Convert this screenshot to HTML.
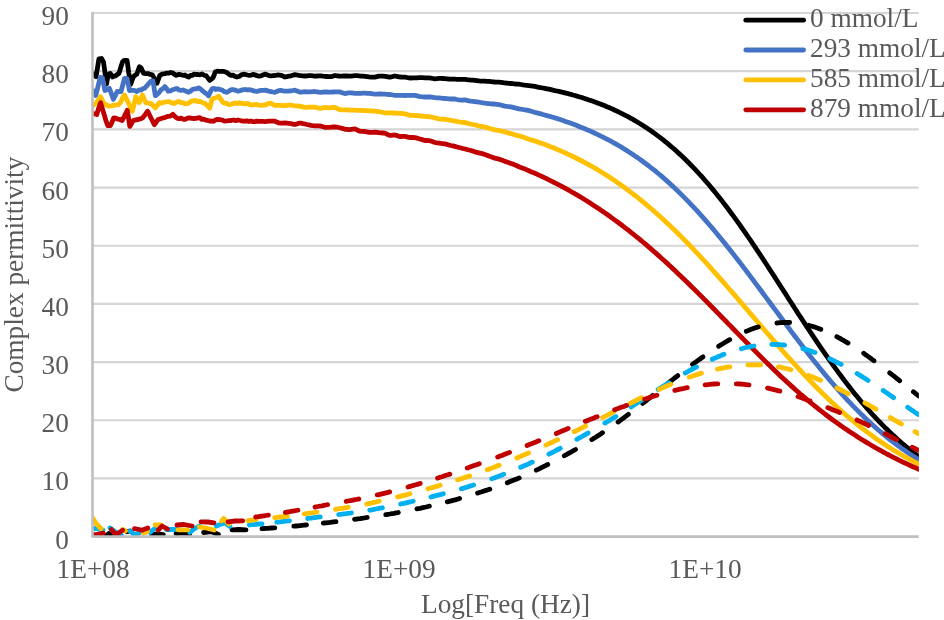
<!DOCTYPE html>
<html><head><meta charset="utf-8"><style>
html,body{margin:0;padding:0;background:#fff;width:944px;height:620px;overflow:hidden}
svg{display:block}
text{font-family:"Liberation Serif",serif;font-size:27.3px;fill:#595959}
svg{will-change:transform}
</style></head><body>
<svg width="944" height="620" viewBox="0 0 944 620">
<defs><clipPath id="pa"><rect x="92.5" y="0" width="826.4" height="536.6"/></clipPath></defs>
<g stroke="#d5d5d5" stroke-width="2.2"><line x1="92.5" y1="478.43" x2="918.7" y2="478.43"/><line x1="92.5" y1="420.25" x2="918.7" y2="420.25"/><line x1="92.5" y1="362.08" x2="918.7" y2="362.08"/><line x1="92.5" y1="303.90" x2="918.7" y2="303.90"/><line x1="92.5" y1="245.73" x2="918.7" y2="245.73"/><line x1="92.5" y1="187.55" x2="918.7" y2="187.55"/><line x1="92.5" y1="129.38" x2="918.7" y2="129.38"/><line x1="92.5" y1="71.20" x2="918.7" y2="71.20"/><line x1="92.5" y1="13.02" x2="918.7" y2="13.02"/></g>
<g fill="none" stroke-width="4.8" stroke-linecap="round" stroke-linejoin="round" clip-path="url(#pa)">
<path d="M92.5,73.4 94.2,75.0 96.0,76.6 97.5,67.9 98.9,58.9 101.5,58.5 103.5,62.0 105.0,72.9 106.5,84.0 108.3,74.2 110.2,73.4 112.5,77.0 114.2,76.0 115.8,75.8 117.4,74.4 119.0,73.4 120.8,67.3 122.5,62.0 124.0,60.5 125.5,60.5 127.1,60.5 128.8,73.1 130.6,84.5 132.1,80.3 133.5,76.6 135.2,75.1 136.8,74.2 139.4,66.8 141.0,67.8 143.4,73.1 145.7,73.6 147.9,73.6 150.2,74.4 152.4,74.8 155.0,80.0 157.0,83.2 158.4,79.3 159.8,75.3 162.4,74.0 164.9,73.6 166.8,73.2 168.6,73.2 170.5,72.5 172.4,72.8 174.3,74.2 176.2,75.3 178.5,74.4 180.7,74.7 183.0,75.3 184.9,75.0 186.7,76.3 188.6,77.0 190.5,75.5 192.3,75.3 194.2,74.2 196.1,74.5 198.0,74.5 199.9,74.8 202.0,74.0 204.2,75.3 206.3,75.9 208.0,78.1 209.7,80.4 211.4,79.1 213.1,77.6 215.3,72.0 217.2,71.1 219.1,71.4 221.0,71.4 223.2,71.3 225.5,72.0 227.2,72.7 228.9,74.2 230.9,75.4 232.9,75.2 234.8,76.3 236.8,77.0 239.1,76.5 241.3,74.9 243.6,74.2 245.5,74.5 247.3,75.0 249.2,75.3 251.1,75.2 253.0,74.4 254.9,74.8 256.9,75.7 258.9,76.2 260.9,75.9 262.9,75.0 264.9,74.1 266.9,74.8 268.9,75.6 270.9,75.9 272.9,75.7 274.9,75.5 276.9,75.2 278.9,75.0 280.9,75.3 282.9,76.1 284.9,77.0 286.9,76.6 288.9,76.2 290.9,75.8 292.9,75.2 294.9,74.6 296.9,75.0 298.9,75.4 300.9,75.7 302.9,75.8 304.9,76.0 306.9,75.8 308.9,75.6 310.9,75.6 312.9,75.9 314.9,76.2 316.9,76.0 318.9,75.8 320.9,75.8 322.9,76.1 324.9,76.3 326.9,76.5 328.9,76.7 330.9,76.6 332.9,76.1 334.9,75.5 336.9,75.8 338.9,76.0 340.9,76.1 342.9,76.0 344.9,75.8 346.9,76.0 348.9,76.2 350.9,76.1 352.9,75.8 354.9,75.6 356.9,75.7 358.9,75.9 360.9,76.1 362.9,76.2 364.9,76.3 366.9,76.6 368.9,76.9 370.9,77.1 372.9,77.1 374.9,77.2 376.9,76.7 378.9,76.2 380.9,76.1 382.9,76.2 384.9,76.4 386.9,76.7 388.9,77.1 390.9,77.0 392.9,76.5 394.9,76.0 396.9,76.4 398.9,76.8 400.9,77.0 402.9,77.1 404.9,77.2 406.9,77.5 408.9,77.8 410.9,78.0 412.9,77.9 414.9,77.9 416.9,77.8 418.9,77.7 420.9,77.6 422.9,77.7 424.9,77.8 426.9,77.8 428.9,77.9 430.9,78.2 432.9,78.5 434.9,78.9 436.9,78.7 438.9,78.4 440.9,78.4 442.9,78.5 444.9,78.6 446.9,78.8 448.9,79.0 450.9,79.1 452.9,79.1 454.9,79.2 456.9,79.3 458.9,79.4 460.9,79.4 462.9,79.4 464.9,79.4 466.9,79.7 468.9,79.9 470.9,80.1 472.9,80.2 474.9,80.3 476.9,80.6 478.9,80.9 480.9,81.1 482.9,81.2 484.9,81.2 486.9,81.3 488.9,81.4 490.9,81.6 492.9,81.8 494.9,82.0 496.9,82.1 498.9,82.2 500.9,82.4 502.9,82.7 504.9,83.0 506.9,83.1 508.9,83.3 510.9,83.5 512.9,83.7 514.9,84.0 516.9,84.1 518.9,84.2 520.9,84.5 522.9,84.9 524.9,85.2 526.9,85.4 528.9,85.6 530.9,85.8 532.9,86.1 534.9,86.4 536.9,86.9 538.9,87.3 540.9,87.7 542.9,88.0 544.9,88.4 546.9,88.8 548.9,89.2 550.9,89.7 552.9,90.2 554.9,90.7 556.9,91.0 558.9,91.4 560.9,91.8 562.9,92.3 564.9,92.8 566.9,93.3 568.9,93.9 570.9,94.4 572.9,95.0 574.9,95.5 576.9,96.1 578.9,96.7 580.9,97.3 582.9,97.9 584.9,98.6 586.9,99.2 588.9,99.9 590.9,100.6 592.9,101.3 594.9,102.0 596.9,102.7 598.9,103.5 600.9,104.2 602.9,105.0 604.9,105.8 606.9,106.7 608.9,107.5 610.9,108.4 612.9,109.3 614.9,110.2 616.9,111.1 618.9,112.1 620.9,113.1 622.9,114.1 624.9,115.1 626.9,116.1 628.9,117.2 630.9,118.3 632.9,119.4 634.9,120.6 636.9,121.8 638.9,123.0 640.9,124.2 642.9,125.5 644.9,126.8 646.9,128.1 648.9,129.4 650.9,130.8 652.9,132.2 654.9,133.6 656.9,135.1 658.9,136.6 660.9,138.1 662.9,139.7 664.9,141.3 666.9,142.9 668.9,144.6 670.9,146.3 672.9,148.0 674.9,149.7 676.9,151.5 678.9,153.4 680.9,155.2 682.9,157.1 684.9,159.0 686.9,161.0 688.9,163.0 690.9,165.0 692.9,167.1 694.9,169.2 696.9,171.3 698.9,173.5 700.9,175.7 702.9,177.9 704.9,180.2 706.9,182.5 708.9,184.8 710.9,187.2 712.9,189.6 714.9,192.0 716.9,194.5 718.9,197.0 720.9,199.5 722.9,202.1 724.9,204.7 726.9,207.3 728.9,210.0 730.9,212.7 732.9,215.4 734.9,218.1 736.9,220.9 738.9,223.7 740.9,226.5 742.9,229.3 744.9,232.2 746.9,235.1 748.9,238.0 750.9,240.9 752.9,243.9 754.9,246.9 756.9,249.9 758.9,252.9 760.9,255.9 762.9,258.9 764.9,262.0 766.9,265.0 768.9,268.1 770.9,271.2 772.9,274.3 774.9,277.4 776.9,280.5 778.9,283.6 780.9,286.7 782.9,289.8 784.9,292.9 786.9,296.0 788.9,299.2 790.9,302.3 792.9,305.4 794.9,308.5 796.9,311.6 798.9,314.7 800.9,317.7 802.9,320.8 804.9,323.9 806.9,326.9 808.9,329.9 810.9,332.9 812.9,335.9 814.9,338.9 816.9,341.9 818.9,344.8 820.9,347.8 822.9,350.7 824.9,353.6 826.9,356.4 828.9,359.3 830.9,362.1 832.9,364.9 834.9,367.7 836.9,370.4 838.9,373.1 840.9,375.8 842.9,378.5 844.9,381.1 846.9,383.7 848.9,386.3 850.9,388.9 852.9,391.4 854.9,393.9 856.9,396.3 858.9,398.8 860.9,401.2 862.9,403.5 864.9,405.9 866.9,408.1 868.9,410.4 870.9,412.7 872.9,414.9 874.9,417.0 876.9,419.2 878.9,421.3 880.9,423.3 882.9,425.4 884.9,427.4 886.9,429.3 888.9,431.3 890.9,433.2 892.9,435.1 894.9,436.9 896.9,438.7 898.9,440.5 900.9,442.3 902.9,444.0 904.9,445.7 906.9,447.3 908.9,448.9 910.9,450.5 912.9,452.1 914.9,453.6 916.9,455.1 918.7,456.5" stroke="#000000"/>
<path d="M92.5,90.0 94.2,92.7 95.8,95.5 98.0,86.5 100.2,77.4 102.3,77.6 103.6,83.6 104.9,90.5 107.2,89.5 109.4,88.3 111.3,93.4 113.3,99.3 115.2,95.8 117.2,91.5 119.1,91.6 121.0,91.5 122.8,84.9 124.5,78.3 127.1,78.6 129.5,90.6 131.5,90.2 133.5,90.3 135.2,90.8 136.8,91.5 139.1,89.9 141.3,90.0 142.9,88.6 144.5,88.3 146.8,85.9 149.0,83.2 151.0,81.1 153.0,81.0 155.3,95.7 157.2,94.4 159.2,92.3 161.1,89.6 163.0,88.8 164.9,86.6 166.6,88.5 168.2,91.2 170.5,90.8 172.7,89.7 175.0,88.9 177.0,88.5 179.0,90.0 181.0,90.4 183.0,90.0 184.9,90.7 186.7,91.4 188.6,92.3 190.5,91.1 192.3,89.6 194.2,88.9 196.6,88.8 199.0,87.8 200.9,89.3 202.9,91.2 204.8,92.7 206.7,93.8 208.6,95.7 210.3,92.0 212.0,88.9 213.9,88.3 215.7,89.5 217.6,88.9 219.8,89.4 222.1,90.0 224.3,91.6 226.6,92.3 228.5,91.4 230.4,90.1 232.3,89.5 234.2,89.9 236.0,90.4 237.9,91.2 240.2,90.6 242.4,89.9 244.7,89.5 247.2,89.8 249.8,89.7 252.3,90.4 254.9,91.2 256.9,91.5 258.9,90.8 260.9,90.4 262.9,90.3 264.9,90.2 266.9,90.7 268.9,91.2 270.9,91.6 272.9,92.0 274.9,92.3 276.9,91.4 278.9,90.6 280.9,90.3 282.9,90.8 284.9,91.2 286.9,91.1 288.9,91.0 290.9,90.8 292.9,90.5 294.9,90.2 296.9,91.0 298.9,91.8 300.9,92.1 302.9,91.9 304.9,91.7 306.9,91.8 308.9,91.9 310.9,91.8 312.9,91.6 314.9,91.5 316.9,91.8 318.9,92.2 320.9,92.3 322.9,92.1 324.9,91.9 326.9,92.0 328.9,92.2 330.9,92.2 332.9,92.0 334.9,91.8 336.9,91.8 338.9,91.9 340.9,92.2 342.9,92.9 344.9,93.6 346.9,93.2 348.9,92.9 350.9,92.8 352.9,93.0 354.9,93.3 356.9,93.3 358.9,93.3 360.9,93.3 362.9,93.2 364.9,93.2 366.9,93.3 368.9,93.4 370.9,93.5 372.9,93.9 374.9,94.2 376.9,94.1 378.9,94.0 380.9,94.0 382.9,94.1 384.9,94.2 386.9,94.3 388.9,94.5 390.9,94.7 392.9,95.0 394.9,95.4 396.9,95.4 398.9,95.4 400.9,95.4 402.9,95.4 404.9,95.5 406.9,95.4 408.9,95.4 410.9,95.3 412.9,95.3 414.9,95.3 416.9,95.8 418.9,96.4 420.9,96.7 422.9,96.9 424.9,97.0 426.9,97.0 428.9,96.9 430.9,97.0 432.9,97.3 434.9,97.6 436.9,97.8 438.9,97.9 440.9,98.1 442.9,98.3 444.9,98.5 446.9,98.7 448.9,98.9 450.9,99.0 452.9,99.0 454.9,99.0 456.9,99.5 458.9,99.9 460.9,100.1 462.9,100.0 464.9,99.8 466.9,100.3 468.9,100.8 470.9,101.2 472.9,101.4 474.9,101.6 476.9,101.9 478.9,102.2 480.9,102.5 482.9,102.9 484.9,103.2 486.9,103.5 488.9,103.7 490.9,103.9 492.9,104.0 494.9,104.0 496.9,104.3 498.9,104.6 500.9,105.0 502.9,105.6 504.9,106.1 506.9,106.4 508.9,106.6 510.9,106.9 512.9,107.4 514.9,107.9 516.9,108.3 518.9,108.8 520.9,109.2 522.9,109.5 524.9,109.8 526.9,110.2 528.9,110.7 530.9,111.2 532.9,111.8 534.9,112.4 536.9,112.9 538.9,113.4 540.9,113.9 542.9,114.5 544.9,115.0 546.9,115.6 548.9,116.2 550.9,116.7 552.9,117.3 554.9,117.9 556.9,118.5 558.9,119.1 560.9,119.8 562.9,120.5 564.9,121.2 566.9,121.9 568.9,122.6 570.9,123.3 572.9,124.0 574.9,124.8 576.9,125.6 578.9,126.4 580.9,127.2 582.9,128.0 584.9,128.8 586.9,129.7 588.9,130.5 590.9,131.4 592.9,132.3 594.9,133.2 596.9,134.1 598.9,135.1 600.9,136.1 602.9,137.1 604.9,138.1 606.9,139.1 608.9,140.2 610.9,141.2 612.9,142.3 614.9,143.4 616.9,144.6 618.9,145.7 620.9,146.9 622.9,148.1 624.9,149.4 626.9,150.6 628.9,151.9 630.9,153.2 632.9,154.5 634.9,155.9 636.9,157.2 638.9,158.6 640.9,160.0 642.9,161.5 644.9,163.0 646.9,164.5 648.9,166.0 650.9,167.6 652.9,169.1 654.9,170.7 656.9,172.4 658.9,174.0 660.9,175.7 662.9,177.4 664.9,179.2 666.9,180.9 668.9,182.7 670.9,184.6 672.9,186.4 674.9,188.3 676.9,190.2 678.9,192.1 680.9,194.1 682.9,196.1 684.9,198.1 686.9,200.1 688.9,202.2 690.9,204.3 692.9,206.4 694.9,208.5 696.9,210.7 698.9,212.9 700.9,215.1 702.9,217.3 704.9,219.6 706.9,221.9 708.9,224.2 710.9,226.5 712.9,228.9 714.9,231.3 716.9,233.7 718.9,236.1 720.9,238.5 722.9,241.0 724.9,243.4 726.9,245.9 728.9,248.5 730.9,251.0 732.9,253.5 734.9,256.1 736.9,258.7 738.9,261.3 740.9,263.9 742.9,266.5 744.9,269.1 746.9,271.8 748.9,274.4 750.9,277.1 752.9,279.7 754.9,282.4 756.9,285.1 758.9,287.8 760.9,290.5 762.9,293.2 764.9,295.9 766.9,298.6 768.9,301.3 770.9,304.0 772.9,306.7 774.9,309.4 776.9,312.1 778.9,314.8 780.9,317.5 782.9,320.2 784.9,322.9 786.9,325.6 788.9,328.3 790.9,331.0 792.9,333.6 794.9,336.3 796.9,338.9 798.9,341.5 800.9,344.1 802.9,346.8 804.9,349.3 806.9,351.9 808.9,354.5 810.9,357.0 812.9,359.6 814.9,362.1 816.9,364.6 818.9,367.0 820.9,369.5 822.9,371.9 824.9,374.4 826.9,376.7 828.9,379.1 830.9,381.5 832.9,383.8 834.9,386.1 836.9,388.4 838.9,390.7 840.9,392.9 842.9,395.1 844.9,397.3 846.9,399.5 848.9,401.6 850.9,403.7 852.9,405.8 854.9,407.9 856.9,409.9 858.9,411.9 860.9,413.9 862.9,415.8 864.9,417.8 866.9,419.7 868.9,421.5 870.9,423.4 872.9,425.2 874.9,427.0 876.9,428.8 878.9,430.5 880.9,432.2 882.9,433.9 884.9,435.5 886.9,437.2 888.9,438.8 890.9,440.4 892.9,441.9 894.9,443.4 896.9,444.9 898.9,446.4 900.9,447.8 902.9,449.3 904.9,450.6 906.9,452.0 908.9,453.4 910.9,454.7 912.9,456.0 914.9,457.2 916.9,458.5 918.7,459.6" stroke="#4472c4"/>
<path d="M92.5,106.1 94.5,104.1 96.5,103.0 98.5,99.5 100.6,96.8 102.5,100.7 104.4,104.4 106.5,104.9 108.6,106.1 111.2,105.9 113.7,105.3 116.2,105.0 118.8,104.4 120.8,102.2 122.7,97.6 124.7,95.1 126.6,99.4 128.5,103.0 130.4,107.1 132.4,111.2 134.1,104.0 135.8,96.8 137.5,99.1 139.2,102.7 140.8,98.7 142.5,95.1 144.2,99.2 145.9,102.7 148.4,103.1 151.0,103.6 153.2,105.7 155.3,107.8 157.4,105.1 159.5,102.7 161.8,103.0 164.0,102.2 166.3,101.9 168.8,101.5 171.4,102.7 173.9,103.6 176.2,102.3 178.4,101.4 180.7,102.5 183.0,102.6 185.2,103.8 187.5,103.6 189.4,102.7 191.2,101.2 193.1,100.8 195.4,100.5 197.6,101.6 199.9,101.3 201.7,102.1 203.4,102.9 205.2,103.6 207.4,105.8 209.7,108.1 212.0,99.1 214.2,98.2 216.5,97.5 218.7,96.2 220.9,99.6 223.2,102.5 225.1,103.3 227.0,103.5 228.9,104.7 231.2,104.4 233.4,103.3 235.7,103.0 237.7,103.6 239.6,102.7 241.6,103.4 243.6,103.6 245.9,103.8 248.1,103.4 250.4,104.9 252.6,105.0 254.9,104.5 256.9,104.6 258.9,105.1 260.9,105.3 262.9,105.2 264.9,105.1 266.9,104.2 268.9,103.3 270.9,103.4 272.9,104.4 274.9,105.4 276.9,105.3 278.9,105.3 280.9,105.4 282.9,105.5 284.9,105.6 286.9,105.3 288.9,105.1 290.9,105.1 292.9,105.5 294.9,105.8 296.9,105.9 298.9,106.1 300.9,106.4 302.9,106.9 304.9,107.4 306.9,107.3 308.9,107.1 310.9,107.1 312.9,107.1 314.9,107.1 316.9,107.7 318.9,108.2 320.9,108.3 322.9,107.8 324.9,107.4 326.9,107.6 328.9,107.8 330.9,107.7 332.9,107.5 334.9,107.3 336.9,108.3 338.9,109.3 340.9,109.8 342.9,109.8 344.9,109.8 346.9,109.9 348.9,110.0 350.9,110.1 352.9,110.2 354.9,110.2 356.9,110.3 358.9,110.3 360.9,110.4 362.9,110.5 364.9,110.7 366.9,110.7 368.9,110.8 370.9,110.9 372.9,111.1 374.9,111.2 376.9,111.4 378.9,111.7 380.9,112.0 382.9,112.5 384.9,113.0 386.9,112.9 388.9,112.9 390.9,112.9 392.9,113.0 394.9,113.1 396.9,113.2 398.9,113.3 400.9,113.4 402.9,113.6 404.9,113.8 406.9,114.4 408.9,115.1 410.9,115.4 412.9,115.4 414.9,115.5 416.9,115.6 418.9,115.8 420.9,116.0 422.9,116.2 424.9,116.4 426.9,116.5 428.9,116.7 430.9,117.0 432.9,117.4 434.9,117.9 436.9,118.3 438.9,118.8 440.9,119.1 442.9,119.2 444.9,119.3 446.9,119.7 448.9,120.0 450.9,120.4 452.9,120.7 454.9,121.1 456.9,121.5 458.9,121.9 460.9,122.2 462.9,122.4 464.9,122.5 466.9,123.1 468.9,123.7 470.9,124.1 472.9,124.5 474.9,124.8 476.9,125.4 478.9,126.0 480.9,126.5 482.9,126.7 484.9,127.0 486.9,127.6 488.9,128.2 490.9,128.8 492.9,129.3 494.9,129.9 496.9,130.2 498.9,130.5 500.9,131.0 502.9,131.4 504.9,131.9 506.9,132.5 508.9,133.1 510.9,133.7 512.9,134.2 514.9,134.8 516.9,135.3 518.9,135.8 520.9,136.4 522.9,137.1 524.9,137.8 526.9,138.5 528.9,139.2 530.9,139.9 532.9,140.4 534.9,141.0 536.9,141.7 538.9,142.4 540.9,143.1 542.9,143.8 544.9,144.5 546.9,145.3 548.9,146.1 550.9,146.9 552.9,147.6 554.9,148.4 556.9,149.2 558.9,150.1 560.9,151.0 562.9,151.9 564.9,152.8 566.9,153.7 568.9,154.6 570.9,155.5 572.9,156.5 574.9,157.5 576.9,158.5 578.9,159.5 580.9,160.5 582.9,161.5 584.9,162.6 586.9,163.7 588.9,164.8 590.9,165.9 592.9,167.0 594.9,168.2 596.9,169.3 598.9,170.5 600.9,171.8 602.9,173.0 604.9,174.2 606.9,175.5 608.9,176.8 610.9,178.1 612.9,179.4 614.9,180.8 616.9,182.2 618.9,183.5 620.9,185.0 622.9,186.4 624.9,187.8 626.9,189.3 628.9,190.8 630.9,192.3 632.9,193.8 634.9,195.4 636.9,196.9 638.9,198.5 640.9,200.1 642.9,201.8 644.9,203.4 646.9,205.1 648.9,206.8 650.9,208.5 652.9,210.2 654.9,212.0 656.9,213.7 658.9,215.5 660.9,217.3 662.9,219.2 664.9,221.0 666.9,222.9 668.9,224.7 670.9,226.6 672.9,228.6 674.9,230.5 676.9,232.4 678.9,234.4 680.9,236.4 682.9,238.4 684.9,240.4 686.9,242.5 688.9,244.5 690.9,246.6 692.9,248.7 694.9,250.8 696.9,252.9 698.9,255.0 700.9,257.2 702.9,259.3 704.9,261.5 706.9,263.7 708.9,265.9 710.9,268.1 712.9,270.3 714.9,272.6 716.9,274.8 718.9,277.1 720.9,279.3 722.9,281.6 724.9,283.9 726.9,286.2 728.9,288.5 730.9,290.8 732.9,293.1 734.9,295.4 736.9,297.7 738.9,300.1 740.9,302.4 742.9,304.7 744.9,307.1 746.9,309.4 748.9,311.8 750.9,314.1 752.9,316.4 754.9,318.8 756.9,321.1 758.9,323.5 760.9,325.8 762.9,328.1 764.9,330.5 766.9,332.8 768.9,335.1 770.9,337.4 772.9,339.7 774.9,342.0 776.9,344.3 778.9,346.6 780.9,348.9 782.9,351.2 784.9,353.4 786.9,355.7 788.9,357.9 790.9,360.1 792.9,362.3 794.9,364.5 796.9,366.7 798.9,368.9 800.9,371.0 802.9,373.2 804.9,375.3 806.9,377.4 808.9,379.5 810.9,381.6 812.9,383.7 814.9,385.7 816.9,387.7 818.9,389.7 820.9,391.7 822.9,393.7 824.9,395.7 826.9,397.6 828.9,399.5 830.9,401.4 832.9,403.3 834.9,405.1 836.9,407.0 838.9,408.8 840.9,410.6 842.9,412.3 844.9,414.1 846.9,415.8 848.9,417.5 850.9,419.2 852.9,420.9 854.9,422.5 856.9,424.2 858.9,425.8 860.9,427.3 862.9,428.9 864.9,430.4 866.9,431.9 868.9,433.4 870.9,434.9 872.9,436.4 874.9,437.8 876.9,439.2 878.9,440.6 880.9,441.9 882.9,443.3 884.9,444.6 886.9,445.9 888.9,447.2 890.9,448.5 892.9,449.7 894.9,450.9 896.9,452.1 898.9,453.3 900.9,454.5 902.9,455.6 904.9,456.8 906.9,457.9 908.9,459.0 910.9,460.0 912.9,461.1 914.9,462.1 916.9,463.1 918.7,464.0" stroke="#ffc000"/>
<path d="M92.5,113.5 94.7,113.8 96.8,114.6 98.7,108.0 100.6,102.7 102.5,109.1 104.4,115.4 106.1,121.2 107.8,125.6 110.3,125.6 112.0,122.2 113.7,118.0 115.8,118.2 118.0,119.2 120.1,119.5 122.2,120.5 124.8,115.2 127.3,110.3 129.8,126.4 131.5,123.6 133.2,120.5 135.3,120.0 137.5,119.7 140.0,118.9 142.5,118.0 145.1,114.7 147.6,111.2 149.3,114.5 151.0,118.0 152.7,121.3 154.4,124.7 156.1,122.3 157.8,119.7 160.4,118.8 162.9,118.0 165.4,117.4 168.0,116.3 170.4,116.1 172.8,114.3 175.1,116.6 177.3,118.3 179.3,118.6 181.2,118.1 183.2,119.3 185.2,119.4 187.5,118.2 189.7,118.0 192.0,118.3 194.0,118.5 195.9,118.3 197.9,117.8 199.9,117.7 201.8,119.4 203.8,119.1 205.8,120.1 207.7,120.4 209.7,121.1 211.7,121.0 213.6,121.3 215.6,119.9 217.6,119.4 219.9,119.6 222.1,120.0 224.4,121.1 226.7,120.9 228.9,120.6 231.2,120.5 233.4,120.0 235.7,120.6 237.9,120.0 240.2,120.5 242.5,121.1 244.7,121.2 247.0,120.8 249.0,121.5 250.9,121.0 252.9,121.7 254.9,121.7 256.9,121.2 258.9,121.3 260.9,121.3 262.9,121.4 264.9,121.6 266.9,121.4 268.9,121.2 270.9,121.1 272.9,121.2 274.9,121.2 276.9,122.1 278.9,122.9 280.9,123.2 282.9,123.1 284.9,122.9 286.9,123.1 288.9,123.4 290.9,123.7 292.9,124.1 294.9,124.5 296.9,123.9 298.9,123.2 300.9,123.1 302.9,123.6 304.9,124.0 306.9,124.5 308.9,124.9 310.9,125.3 312.9,125.6 314.9,125.8 316.9,125.8 318.9,125.8 320.9,126.1 322.9,126.7 324.9,127.3 326.9,127.3 328.9,127.3 330.9,127.2 332.9,127.0 334.9,126.9 336.9,127.2 338.9,127.5 340.9,128.0 342.9,128.6 344.9,129.3 346.9,129.4 348.9,129.6 350.9,129.5 352.9,129.1 354.9,128.8 356.9,129.8 358.9,130.8 360.9,131.3 362.9,131.4 364.9,131.5 366.9,131.9 368.9,132.3 370.9,132.4 372.9,132.3 374.9,132.1 376.9,132.4 378.9,132.7 380.9,132.9 382.9,133.0 384.9,133.1 386.9,134.1 388.9,135.1 390.9,135.5 392.9,135.2 394.9,135.0 396.9,135.6 398.9,136.3 400.9,136.5 402.9,136.4 404.9,136.3 406.9,136.8 408.9,137.3 410.9,137.5 412.9,137.5 414.9,137.6 416.9,138.1 418.9,138.7 420.9,139.3 422.9,139.9 424.9,140.5 426.9,140.5 428.9,140.6 430.9,141.0 432.9,141.7 434.9,142.5 436.9,142.8 438.9,143.1 440.9,143.4 442.9,143.6 444.9,143.9 446.9,144.4 448.9,145.0 450.9,145.5 452.9,145.9 454.9,146.4 456.9,147.0 458.9,147.5 460.9,148.0 462.9,148.5 464.9,149.0 466.9,149.5 468.9,150.0 470.9,150.5 472.9,151.1 474.9,151.8 476.9,152.3 478.9,152.8 480.9,153.3 482.9,153.9 484.9,154.5 486.9,155.2 488.9,156.0 490.9,156.7 492.9,157.4 494.9,158.2 496.9,158.6 498.9,159.1 500.9,159.7 502.9,160.5 504.9,161.4 506.9,162.0 508.9,162.7 510.9,163.4 512.9,164.1 514.9,164.9 516.9,165.8 518.9,166.7 520.9,167.5 522.9,168.2 524.9,168.9 526.9,169.9 528.9,170.8 530.9,171.7 532.9,172.4 534.9,173.2 536.9,174.1 538.9,175.1 540.9,176.0 542.9,176.9 544.9,177.9 546.9,178.8 548.9,179.8 550.9,180.8 552.9,181.8 554.9,182.9 556.9,183.9 558.9,184.9 560.9,186.0 562.9,187.0 564.9,188.1 566.9,189.2 568.9,190.3 570.9,191.5 572.9,192.6 574.9,193.7 576.9,194.9 578.9,196.1 580.9,197.3 582.9,198.5 584.9,199.8 586.9,201.0 588.9,202.3 590.9,203.6 592.9,204.9 594.9,206.2 596.9,207.5 598.9,208.8 600.9,210.2 602.9,211.5 604.9,212.9 606.9,214.3 608.9,215.7 610.9,217.2 612.9,218.6 614.9,220.1 616.9,221.5 618.9,223.0 620.9,224.5 622.9,226.0 624.9,227.6 626.9,229.1 628.9,230.7 630.9,232.3 632.9,233.8 634.9,235.5 636.9,237.1 638.9,238.7 640.9,240.4 642.9,242.0 644.9,243.7 646.9,245.4 648.9,247.1 650.9,248.8 652.9,250.6 654.9,252.3 656.9,254.1 658.9,255.9 660.9,257.7 662.9,259.5 664.9,261.3 666.9,263.1 668.9,265.0 670.9,266.8 672.9,268.7 674.9,270.6 676.9,272.5 678.9,274.4 680.9,276.3 682.9,278.2 684.9,280.1 686.9,282.1 688.9,284.0 690.9,286.0 692.9,287.9 694.9,289.9 696.9,291.9 698.9,293.9 700.9,295.9 702.9,297.9 704.9,299.9 706.9,301.9 708.9,303.9 710.9,306.0 712.9,308.0 714.9,310.0 716.9,312.1 718.9,314.1 720.9,316.2 722.9,318.2 724.9,320.3 726.9,322.3 728.9,324.4 730.9,326.4 732.9,328.5 734.9,330.5 736.9,332.6 738.9,334.6 740.9,336.7 742.9,338.7 744.9,340.8 746.9,342.8 748.9,344.8 750.9,346.9 752.9,348.9 754.9,350.9 756.9,352.9 758.9,354.9 760.9,356.9 762.9,358.9 764.9,360.9 766.9,362.9 768.9,364.8 770.9,366.8 772.9,368.7 774.9,370.7 776.9,372.6 778.9,374.5 780.9,376.4 782.9,378.3 784.9,380.1 786.9,382.0 788.9,383.8 790.9,385.6 792.9,387.4 794.9,389.2 796.9,391.0 798.9,392.7 800.9,394.5 802.9,396.2 804.9,397.9 806.9,399.6 808.9,401.2 810.9,402.9 812.9,404.5 814.9,406.1 816.9,407.7 818.9,409.3 820.9,410.9 822.9,412.4 824.9,414.0 826.9,415.5 828.9,417.0 830.9,418.5 832.9,420.0 834.9,421.4 836.9,422.9 838.9,424.3 840.9,425.7 842.9,427.1 844.9,428.5 846.9,429.8 848.9,431.2 850.9,432.5 852.9,433.8 854.9,435.1 856.9,436.4 858.9,437.7 860.9,439.0 862.9,440.2 864.9,441.4 866.9,442.6 868.9,443.8 870.9,445.0 872.9,446.2 874.9,447.4 876.9,448.5 878.9,449.6 880.9,450.7 882.9,451.8 884.9,452.9 886.9,454.0 888.9,455.0 890.9,456.1 892.9,457.1 894.9,458.1 896.9,459.1 898.9,460.1 900.9,461.1 902.9,462.1 904.9,463.0 906.9,463.9 908.9,464.9 910.9,465.8 912.9,466.7 914.9,467.5 916.9,468.4 918.7,469.2" stroke="#c00000"/>
<path d="M105.0,537.5 108.9,533.5 112.2,537.5" stroke="#000000"/>
<path d="M127.0,531.7 130.0,531.0" stroke="#000000"/>
<path d="M151.7,534.6 157.0,534.0 163.3,534.6" stroke="#000000"/>
<path d="M176.0,533.5 183.0,533.0 189.8,533.5" stroke="#000000"/>
<path d="M203.6,532.5 211.0,531.5 218.4,534.5" stroke="#000000"/>
<path d="M232.0,529.8 239.0,529.5 246.0,529.8" stroke="#000000"/>
<path d="M262.0,528.7 262.0,528.7 264.0,528.5 266.0,528.4 268.0,528.3 270.0,528.1 272.0,528.0 274.0,527.9 274.8,527.8 M293.8,526.2 294.0,526.2 296.0,526.0 298.0,525.8 300.0,525.6 302.0,525.4 304.0,525.2 306.0,525.0 306.5,524.9 M323.3,523.1 324.0,523.0 326.0,522.8 328.0,522.6 330.0,522.4 332.0,522.1 334.0,521.9 336.0,521.7 336.0,521.7 M354.5,519.3 356.0,519.1 358.0,518.8 360.0,518.6 362.0,518.3 364.0,518.0 366.0,517.7 367.2,517.5 M385.7,514.7 386.0,514.7 388.0,514.3 390.0,514.0 392.0,513.6 394.0,513.3 396.0,512.9 398.0,512.6 398.3,512.5 M416.9,508.9 418.0,508.7 420.0,508.3 422.0,507.8 424.0,507.4 426.0,507.0 428.0,506.5 429.4,506.2 M447.3,501.9 448.0,501.7 450.0,501.2 452.0,500.6 454.0,500.1 456.0,499.6 458.0,499.0 459.6,498.5 M477.6,493.1 478.0,493.0 480.0,492.3 482.0,491.7 484.0,491.0 486.0,490.4 488.0,489.7 489.8,489.1 M507.3,482.7 508.0,482.4 510.0,481.6 512.0,480.8 514.0,480.0 516.0,479.2 518.0,478.4 519.2,477.9 M536.3,470.2 538.0,469.4 540.0,468.4 542.0,467.4 544.0,466.4 546.0,465.4 547.8,464.5 M564.3,455.8 566.0,454.8 568.0,453.7 570.0,452.6 572.0,451.5 574.0,450.3 575.5,449.5 M591.8,439.6 592.0,439.5 594.0,438.2 596.0,437.0 598.0,435.7 600.0,434.4 602.0,433.1 602.5,432.7 M618.1,422.0 620.0,420.6 622.0,419.1 624.0,417.7 626.0,416.2 628.0,414.7 628.4,414.4 M642.6,403.4 644.0,402.4 646.0,400.8 648.0,399.2 650.0,397.6 652.0,396.0 652.7,395.5 M667.7,383.5 668.0,383.3 670.0,381.7 672.0,380.1 674.0,378.5 676.0,377.0 677.8,375.6 M692.5,364.4 694.0,363.3 696.0,361.9 698.0,360.4 700.0,359.0 702.0,357.5 702.9,356.9 M718.7,346.3 720.0,345.4 722.0,344.2 724.0,343.0 726.0,341.8 728.0,340.6 729.7,339.7 M746.3,331.3 748.0,330.6 750.0,329.8 752.0,329.1 754.0,328.3 756.0,327.6 758.0,327.0 758.3,326.9 M776.9,323.0 778.0,322.9 780.0,322.7 782.0,322.6 784.0,322.5 786.0,322.4 788.0,322.5 789.7,322.5 M808.7,325.3 810.0,325.7 812.0,326.3 814.0,326.9 816.0,327.5 818.0,328.2 820.0,329.0 820.8,329.3 M836.8,336.7 838.0,337.3 840.0,338.4 842.0,339.6 844.0,340.7 846.0,341.9 848.0,343.1 M863.7,353.3 864.0,353.6 866.0,355.0 868.0,356.4 870.0,357.8 872.0,359.3 874.0,360.8 874.1,360.8 M889.7,372.9 890.0,373.1 892.0,374.7 894.0,376.2 896.0,377.8 898.0,379.4 899.7,380.8 M913.4,391.8 914.0,392.2 916.0,393.8 918.0,395.4 918.7,396.0" stroke="#000000"/>
<path d="M89.0,527.5 98.0,529.0 103.0,530.0" stroke="#00b0f0"/>
<path d="M110.0,528.0 114.0,531.0 121.5,535.5" stroke="#00b0f0"/>
<path d="M130.0,531.0 134.5,534.7 138.9,533.2" stroke="#00b0f0"/>
<path d="M150.0,532.4 154.8,528.5" stroke="#00b0f0"/>
<path d="M166.5,529.7 172.0,529.3 177.0,529.7" stroke="#00b0f0"/>
<path d="M189.8,532.4 194.0,529.0 199.3,526.0" stroke="#00b0f0"/>
<path d="M216.3,526.0 224.7,522.8 230.0,526.5" stroke="#00b0f0"/>
<path d="M249.3,525.0 250.0,524.9 252.0,524.7 254.0,524.6 256.0,524.4 258.0,524.2 260.0,524.0 262.0,523.8 262.0,523.8 M276.8,522.2 278.0,522.1 280.0,521.9 282.0,521.6 284.0,521.4 286.0,521.2 288.0,520.9 289.5,520.8 M307.6,518.5 308.0,518.5 310.0,518.2 312.0,518.0 314.0,517.7 316.0,517.5 318.0,517.2 320.0,516.9 320.3,516.9 M338.7,514.5 340.0,514.3 342.0,514.1 344.0,513.8 346.0,513.6 348.0,513.3 350.0,513.1 351.4,512.9 M369.8,510.2 370.0,510.1 372.0,509.8 374.0,509.4 376.0,509.0 378.0,508.6 380.0,508.2 382.0,507.9 382.4,507.8 M400.6,504.0 402.0,503.7 404.0,503.3 406.0,502.8 408.0,502.4 410.0,501.9 412.0,501.5 413.1,501.2 M431.0,497.0 432.0,496.7 434.0,496.2 436.0,495.7 438.0,495.2 440.0,494.7 442.0,494.1 443.4,493.8 M461.3,488.8 462.0,488.6 464.0,488.0 466.0,487.4 468.0,486.7 470.0,486.1 472.0,485.5 473.6,485.0 M491.7,478.8 492.0,478.7 494.0,478.0 496.0,477.2 498.0,476.5 500.0,475.7 502.0,474.9 503.7,474.3 M520.6,467.3 522.0,466.7 524.0,465.8 526.0,465.0 528.0,464.1 530.0,463.2 532.0,462.2 532.3,462.1 M548.9,454.2 550.0,453.6 552.0,452.6 554.0,451.6 556.0,450.5 558.0,449.5 560.0,448.5 560.3,448.3 M576.9,439.3 578.0,438.7 580.0,437.6 582.0,436.5 584.0,435.4 586.0,434.2 588.0,433.1 588.1,433.0 M604.9,423.1 606.0,422.5 608.0,421.3 610.0,420.1 612.0,418.8 614.0,417.6 615.8,416.5 M631.1,406.9 632.0,406.3 634.0,405.0 636.0,403.7 638.0,402.5 640.0,401.2 641.9,400.0 M658.1,389.5 660.0,388.3 662.0,387.0 664.0,385.8 666.0,384.5 668.0,383.3 668.9,382.7 M685.2,373.0 686.0,372.6 688.0,371.5 690.0,370.4 692.0,369.3 694.0,368.2 696.0,367.1 696.5,366.9 M712.2,359.3 714.0,358.5 716.0,357.6 718.0,356.7 720.0,355.9 722.0,355.1 724.0,354.3 M741.4,348.7 742.0,348.5 744.0,348.0 746.0,347.5 748.0,347.1 750.0,346.7 752.0,346.3 753.9,346.0 M771.8,344.4 772.0,344.4 774.0,344.4 776.0,344.5 778.0,344.5 780.0,344.7 782.0,344.8 784.0,345.0 784.6,345.1 M802.9,348.6 804.0,348.9 806.0,349.5 808.0,350.1 810.0,350.8 812.0,351.4 814.0,352.2 815.0,352.5 M829.7,358.7 830.0,358.8 832.0,359.8 834.0,360.8 836.0,361.8 838.0,362.8 840.0,363.8 841.1,364.4 M857.1,373.6 858.0,374.1 860.0,375.4 862.0,376.6 864.0,377.9 866.0,379.1 868.0,380.4 M883.2,390.5 884.0,391.1 886.0,392.4 888.0,393.8 890.0,395.2 892.0,396.5 893.7,397.7 M907.7,407.3 908.0,407.5 910.0,408.9 912.0,410.3 914.0,411.6 916.0,413.0 918.0,414.3 918.3,414.5" stroke="#00b0f0"/>
<path d="M89.0,515.5 93.0,518.5 96.0,523.5 101.1,528.7" stroke="#ffc000"/>
<path d="M122.6,529.5 125.6,531.0" stroke="#ffc000"/>
<path d="M143.4,533.2 147.4,531.7" stroke="#ffc000"/>
<path d="M155.2,525.0 161.0,525.0" stroke="#ffc000"/>
<path d="M178.0,529.8 187.7,529.8" stroke="#ffc000"/>
<path d="M199.3,527.0 206.0,528.0 214.0,530.0" stroke="#ffc000"/>
<path d="M221.5,521.0 223.7,518.5 229.0,524.0" stroke="#ffc000"/>
<path d="M248.0,520.6 250.0,520.3 252.0,520.1 254.0,519.9 256.0,519.6 256.3,519.6 M274.7,517.6 276.0,517.5 278.0,517.2 280.0,517.0 282.0,516.8 284.0,516.5 286.0,516.3 287.4,516.1 M304.3,513.9 306.0,513.7 308.0,513.4 310.0,513.1 312.0,512.8 314.0,512.5 316.0,512.2 317.0,512.1 M335.6,509.3 336.0,509.2 338.0,508.9 340.0,508.6 342.0,508.3 344.0,508.0 346.0,507.7 348.0,507.4 348.2,507.3 M366.7,504.0 368.0,503.7 370.0,503.3 372.0,502.9 374.0,502.4 376.0,502.0 378.0,501.5 379.2,501.2 M397.6,496.9 398.0,496.8 400.0,496.3 402.0,495.8 404.0,495.3 406.0,494.8 408.0,494.3 410.0,493.7 M428.0,488.8 428.0,488.8 430.0,488.2 432.0,487.7 434.0,487.1 436.0,486.5 438.0,485.9 440.0,485.3 440.2,485.2 M457.6,479.9 458.0,479.8 460.0,479.1 462.0,478.5 464.0,477.8 466.0,477.1 468.0,476.5 469.8,475.9 M487.2,469.7 488.0,469.4 490.0,468.7 492.0,467.9 494.0,467.2 496.0,466.4 498.0,465.6 499.2,465.2 M516.9,458.0 518.0,457.5 520.0,456.6 522.0,455.8 524.0,454.9 526.0,454.1 528.0,453.2 528.6,452.9 M546.0,445.1 546.0,445.1 548.0,444.1 550.0,443.2 552.0,442.3 554.0,441.3 556.0,440.4 557.6,439.7 M574.1,431.7 576.0,430.8 578.0,429.8 580.0,428.9 582.0,427.9 584.0,426.9 585.6,426.1 M602.7,417.5 604.0,416.8 606.0,415.8 608.0,414.8 610.0,413.8 612.0,412.7 614.0,411.7 614.0,411.7 M630.2,403.4 632.0,402.5 634.0,401.5 636.0,400.5 638.0,399.5 640.0,398.5 641.6,397.7 M659.2,389.4 660.0,389.0 662.0,388.1 664.0,387.2 666.0,386.3 668.0,385.5 670.0,384.6 670.9,384.2 M689.2,377.1 690.0,376.9 692.0,376.2 694.0,375.5 696.0,374.9 698.0,374.2 700.0,373.6 701.4,373.2 M717.4,369.1 718.0,369.0 720.0,368.6 722.0,368.2 724.0,367.8 726.0,367.4 728.0,367.1 729.9,366.8 M747.9,364.9 748.0,364.9 750.0,364.8 752.0,364.8 754.0,364.8 756.0,364.8 758.0,364.8 760.0,364.9 760.7,364.9 M778.4,366.9 780.0,367.2 782.0,367.6 784.0,368.1 786.0,368.5 788.0,369.0 790.0,369.5 790.9,369.8 M808.6,375.5 810.0,376.0 812.0,376.8 814.0,377.6 816.0,378.4 818.0,379.2 820.0,380.1 820.5,380.3 M836.9,387.9 838.0,388.5 840.0,389.5 842.0,390.5 844.0,391.5 846.0,392.6 848.0,393.6 848.3,393.7 M864.9,402.9 866.0,403.5 868.0,404.6 870.0,405.8 872.0,406.9 874.0,408.1 876.0,409.2 876.0,409.3 M890.3,417.6 892.0,418.6 894.0,419.8 896.0,420.9 898.0,422.1 900.0,423.2 901.4,424.0 M915.0,431.7 916.0,432.2 918.0,433.3 918.7,433.7" stroke="#ffc000"/>
<path d="M89.0,534.6 96.7,534.6 103.3,533.2" stroke="#c00000"/>
<path d="M111.5,529.5 116.0,534.7 122.6,530.2" stroke="#c00000"/>
<path d="M134.5,528.7 138.9,529.5 141.9,530.2 147.8,528.0" stroke="#c00000"/>
<path d="M158.2,530.2 162.0,526.0 167.5,529.0" stroke="#c00000"/>
<path d="M177.0,525.0 184.0,524.5 192.0,526.0" stroke="#c00000"/>
<path d="M201.0,521.8 208.0,522.0 214.0,522.8" stroke="#c00000"/>
<path d="M228.0,521.8 235.0,521.0 242.7,520.8" stroke="#c00000"/>
<path d="M255.7,517.0 256.0,516.9 258.0,516.7 260.0,516.4 262.0,516.1 264.0,515.8 266.0,515.5 268.0,515.2 268.4,515.2 M285.3,512.4 286.0,512.3 288.0,511.9 290.0,511.6 292.0,511.2 294.0,510.9 296.0,510.5 297.9,510.2 M315.0,507.1 316.0,506.9 318.0,506.5 320.0,506.1 322.0,505.8 324.0,505.4 326.0,505.0 327.6,504.7 M346.2,501.4 348.0,501.0 350.0,500.7 352.0,500.3 354.0,499.9 356.0,499.5 358.0,499.1 358.8,499.0 M377.2,494.9 378.0,494.8 380.0,494.3 382.0,493.8 384.0,493.3 386.0,492.8 388.0,492.3 389.7,491.9 M408.0,487.0 408.0,487.0 410.0,486.4 412.0,485.9 414.0,485.3 416.0,484.7 418.0,484.1 420.0,483.5 420.3,483.5 M437.6,478.1 438.0,478.0 440.0,477.3 442.0,476.7 444.0,476.0 446.0,475.3 448.0,474.7 449.8,474.1 M467.2,468.0 468.0,467.8 470.0,467.1 472.0,466.3 474.0,465.6 476.0,464.9 478.0,464.2 479.3,463.7 M497.6,457.0 498.0,456.9 500.0,456.1 502.0,455.4 504.0,454.6 506.0,453.8 508.0,453.1 509.6,452.4 M527.1,445.5 528.0,445.1 530.0,444.3 532.0,443.5 534.0,442.7 536.0,441.9 538.0,441.1 538.9,440.7 M556.3,433.5 558.0,432.8 560.0,431.9 562.0,431.1 564.0,430.3 566.0,429.4 568.0,428.6 568.1,428.5 M585.3,421.4 586.0,421.2 588.0,420.3 590.0,419.5 592.0,418.7 594.0,417.9 596.0,417.1 597.2,416.7 M614.7,409.8 616.0,409.3 618.0,408.6 620.0,407.8 622.0,407.1 624.0,406.4 626.0,405.6 626.7,405.4 M644.7,399.1 646.0,398.7 648.0,398.0 650.0,397.4 652.0,396.8 654.0,396.1 656.0,395.5 656.9,395.3 M674.8,390.4 676.0,390.1 678.0,389.7 680.0,389.2 682.0,388.8 684.0,388.4 686.0,387.9 687.3,387.7 M705.1,384.9 706.0,384.8 708.0,384.6 710.0,384.4 712.0,384.2 714.0,384.0 716.0,383.9 717.8,383.8 M736.3,383.8 738.0,383.9 740.0,384.0 742.0,384.2 744.0,384.4 746.0,384.6 748.0,384.8 749.0,384.9 M767.5,388.1 768.0,388.2 770.0,388.6 772.0,389.1 774.0,389.6 776.0,390.1 778.0,390.6 779.9,391.1 M798.0,396.6 800.0,397.3 802.0,398.0 804.0,398.7 806.0,399.4 808.0,400.2 810.0,400.9 810.1,400.9 M827.8,407.7 828.0,407.8 830.0,408.6 832.0,409.4 834.0,410.2 836.0,411.0 838.0,411.8 839.6,412.5 M857.0,420.0 858.0,420.5 860.0,421.4 862.0,422.4 864.0,423.3 866.0,424.2 868.0,425.2 868.6,425.5 M885.3,433.8 886.0,434.2 888.0,435.2 890.0,436.2 892.0,437.3 894.0,438.3 896.0,439.3 896.7,439.6 M912.2,447.3 914.0,448.1 916.0,449.1 918.0,450.0 918.7,450.3" stroke="#c00000"/>
</g>
<line x1="92.5" y1="536.60" x2="918.7" y2="536.60" stroke="#bfbfbf" stroke-width="2.6"/>
<line x1="92.5" y1="12.00" x2="92.5" y2="537.60" stroke="#bfbfbf" stroke-width="2.6"/>
<g text-anchor="end"><text x="68.8" y="548.6">0</text><text x="68.8" y="490.4">10</text><text x="68.8" y="432.2">20</text><text x="68.8" y="374.1">30</text><text x="68.8" y="315.9">40</text><text x="68.8" y="257.7">50</text><text x="68.8" y="199.6">60</text><text x="68.8" y="141.4">70</text><text x="68.8" y="83.2">80</text><text x="68.8" y="25.0">90</text></g>
<g text-anchor="middle"><text x="93.1" y="578.3">1E+08</text><text x="399.1" y="578.3">1E+09</text><text x="705.1" y="578.3">1E+10</text></g>
<text x="505.5" y="612.7" text-anchor="middle">Log[Freq (Hz)]</text>
<text transform="translate(22.6,274.6) rotate(-90)" text-anchor="middle">Complex permittivity</text>
<g stroke-width="4.8" stroke-linecap="round"><line x1="745.8" y1="20.2" x2="803.6" y2="20.2" stroke="#000000"/><text x="810" y="26.6">0 mmol/L</text><line x1="745.8" y1="50.0" x2="803.6" y2="50.0" stroke="#4472c4"/><text x="810" y="56.6">293 mmol/L</text><line x1="745.8" y1="79.9" x2="803.6" y2="79.9" stroke="#ffc000"/><text x="810" y="86.6">585 mmol/L</text><line x1="745.8" y1="109.8" x2="803.6" y2="109.8" stroke="#c00000"/><text x="810" y="116.6">879 mmol/L</text></g>
</svg>
</body></html>
